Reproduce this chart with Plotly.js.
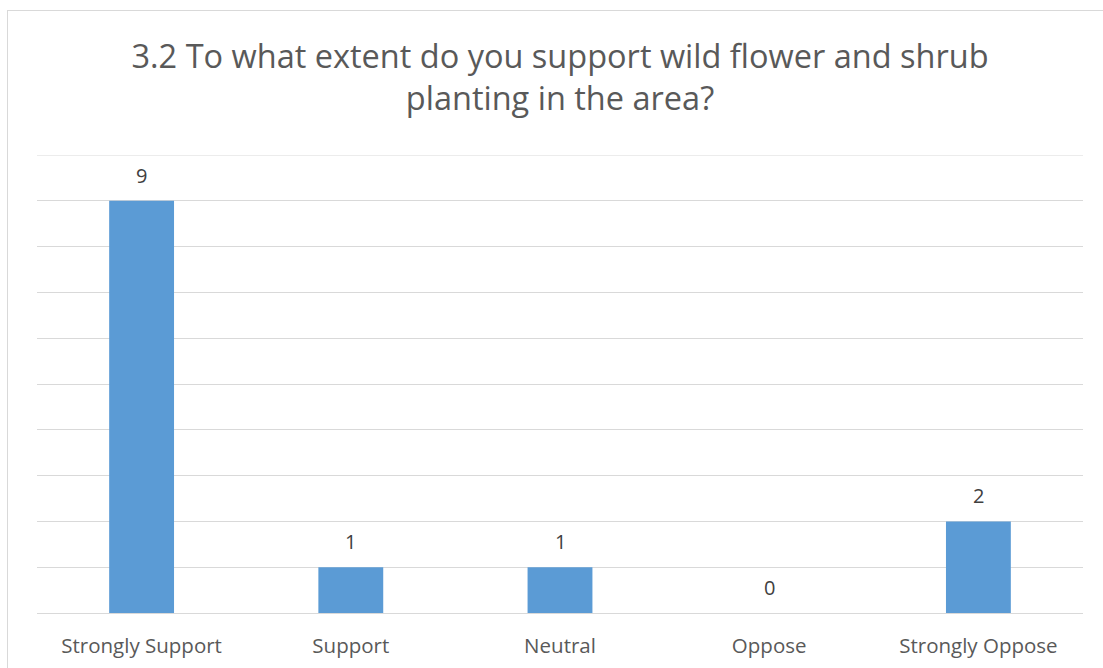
<!DOCTYPE html>
<html>
<head>
<meta charset="utf-8">
<script src="https://cdn.plot.ly/plotly-3.0.1.min.js"></script>
<style>
  html, body { margin: 0; padding: 0; background: #ffffff; overflow: hidden; }
  #wrap { position: relative; width: 1103px; height: 668px; }
  #chart { position: absolute; left: 0; top: 0; width: 1103px; height: 668px; }
  #frame { position: absolute; left: 7px; top: 10px; width: 1200px; height: 800px;
           border-left: 1px solid #d9d9d9; border-top: 1px solid #d9d9d9; pointer-events: none; }
</style>
</head>
<body>
<div id="wrap">
  <div id="chart"></div>
  <div id="frame"></div>
</div>
<script>
// Survey responses for question 3.2
const categories = ['Strongly Support', 'Support', 'Neutral', 'Oppose', 'Strongly Oppose'];
const counts = [9, 1, 1, 0, 2];
const yTicks = [0, 1, 2, 3, 4, 5, 6, 7, 8, 9, 10];
const yMax = yTicks[yTicks.length - 1];

const textColor = '#595959';
const gridColor = '#d9d9d9';
const fontFamily = '"Open Sans", "Noto Sans", sans-serif';

const bars = {
  type: 'bar',
  x: categories,
  y: counts,
  marker: { color: '#5B9BD5' },
  hoverinfo: 'x+y'
};

// Value labels above each bar
const valueLabels = categories.map((c, i) => ({
  x: c,
  y: counts[i],
  xref: 'x',
  yref: 'y',
  text: String(counts[i]),
  showarrow: false,
  yanchor: 'bottom',
  yshift: 10,
  font: { family: fontFamily, size: 20, color: '#404040' }
}));

const layout = {
  width: 1103,
  height: 668,
  margin: { l: 37, r: 20, t: 155, b: 55 },
  paper_bgcolor: 'rgba(0,0,0,0)',
  plot_bgcolor: '#ffffff',
  showlegend: false,
  bargap: 0.69,
  title: {
    text: '3.2 To what extent do you support wild flower and shrub<br>planting in the area?',
    font: { family: fontFamily, size: 32.5, color: textColor },
    xref: 'paper',
    x: 0.5,
    xanchor: 'center',
    y: 0.898,
    yanchor: 'middle'
  },
  xaxis: {
    type: 'category',
    showgrid: false,
    zeroline: false,
    showline: false,
    ticks: '',
    ticklabelstandoff: 18,
    tickfont: { family: fontFamily, size: 20.5, color: textColor }
  },
  yaxis: {
    range: [0, yMax],
    tickvals: yTicks,
    showticklabels: false,
    showgrid: true,
    gridcolor: gridColor,
    gridwidth: 1,
    zeroline: true,
    zerolinecolor: gridColor,
    zerolinewidth: 1,
    ticks: '',
    fixedrange: true
  },
  // top gridline at the upper edge of the value axis
  shapes: [{
    type: 'line',
    xref: 'paper', x0: 0, x1: 1,
    yref: 'y', y0: yMax, y1: yMax,
    line: { color: gridColor, width: 1 },
    layer: 'below'
  }],
  annotations: valueLabels
};

Plotly.newPlot('chart', [bars], layout, { displayModeBar: false, staticPlot: true });
</script>
</body>
</html>
